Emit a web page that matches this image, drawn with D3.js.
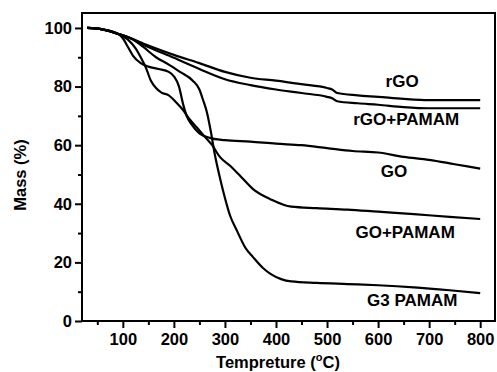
<!DOCTYPE html>
<html>
<head>
<meta charset="utf-8">
<script src="https://cdn.jsdelivr.net/npm/d3@7"></script>
<style>
  body { margin: 0; background: #fff; }
  text { font-family: "Liberation Sans", Arial, sans-serif; font-weight: bold; }
</style>
</head>
<body>
<div id="chart"></div>
<script>
// temperature (C) / mass (%)
var goT   = [30, 60, 90, 100, 110, 120, 135, 150, 170, 190, 200, 210, 218, 225, 235, 250, 270, 300, 350, 400, 450, 500, 550, 600, 650, 700, 750, 800];
var goM   = [100, 99.5, 98, 96.5, 93.5, 90.5, 88, 86.8, 86, 85, 83.5, 80, 74, 70, 67, 64, 62.5, 61.7, 61.2, 60.5, 60, 59, 58, 57.5, 56, 55, 53.5, 52];

var gopT  = [30, 60, 90, 110, 125, 135, 145, 155, 165, 175, 190, 205, 218, 230, 245, 260, 275, 290, 310, 330, 355, 390, 430, 480, 540, 600, 670, 740, 800];
var gopM  = [100, 99.5, 98, 96, 93, 90, 86.5, 82, 79.5, 78, 77, 74.5, 72, 69, 66, 63, 60, 56, 53, 49.5, 45, 41.5, 39, 38.5, 38, 37.3, 36.5, 35.5, 34.8];

var g3T   = [30, 60, 90, 120, 140, 165, 190, 212, 237, 250, 257, 265, 272, 280, 290, 300, 310, 323, 340, 355, 375, 390, 410, 430, 480, 540, 600, 670, 740, 800];
var g3M   = [100, 99.5, 98, 96, 93.5, 90, 87.5, 85, 82, 79, 75.5, 71, 65, 57, 49, 42, 36, 31, 25, 21.8, 18, 16, 14.3, 13.5, 13, 12.6, 12.2, 11.5, 10.5, 9.5];

var rgoT  = [30, 60, 90, 100, 150, 200, 250, 300, 350, 400, 450, 500, 510, 520, 560, 600, 650, 700, 800];
var rgoM  = [100, 99.5, 98, 97.5, 94, 90.8, 88, 85, 83, 82, 80.8, 79.5, 79, 77.8, 77, 76.5, 75.8, 75.4, 75.4];

var rgopT = [30, 60, 90, 100, 150, 200, 250, 300, 350, 400, 450, 500, 510, 520, 560, 600, 650, 700, 800];
var rgopM = [100, 99.5, 98, 97.5, 93.5, 89.8, 86, 82.5, 80.5, 79, 77.8, 76.5, 76, 75, 74.3, 73.8, 73, 72.6, 72.6];

var seriesNames = ["rGO", "rGO+PAMAM", "GO", "GO+PAMAM", "G3 PAMAM"];
var seriesT = [rgoT, rgopT, goT, gopT, g3T];
var seriesM = [rgoM, rgopM, goM, gopM, g3M];
// label anchor points (data units, text baseline)
var labelT = [647, 655, 631, 653, 667];
var labelM = [79.9, 66.9, 49.1, 28.3, 5.1];

var xTicks = [100, 200, 300, 400, 500, 600, 700, 800];
var yTicks = [0, 20, 40, 60, 80, 100];

var W = 497, H = 372;
var margin = {top: 13, right: 2, bottom: 51, left: 82};
var width = W - margin.left - margin.right,
    height = H - margin.top - margin.bottom;

var svg = d3.select("#chart").append("svg")
    .attr("width", W)
    .attr("height", H)
  .append("g")
    .attr("transform", "translate(" + margin.left + "," + margin.top + ")");

var x = d3.scaleLinear().domain([20, 829]).range([0, width]);
var y = d3.scaleLinear().domain([0, 105.1]).range([height, 0]);

// minor ticks
svg.append("g")
    .attr("transform", "translate(0," + height + ")")
    .call(d3.axisBottom(x).tickValues(d3.range(50, 830, 100)).tickSize(4).tickFormat(""))
    .call(g => g.select(".domain").remove())
    .selectAll("line").attr("stroke-width", 2);
svg.append("g")
    .call(d3.axisLeft(y).tickValues(d3.range(10, 105, 20)).tickSize(4).tickFormat(""))
    .call(g => g.select(".domain").remove())
    .selectAll("line").attr("stroke-width", 2);

// major ticks
var xa = svg.append("g")
    .attr("transform", "translate(0," + height + ")")
    .call(d3.axisBottom(x).tickValues(xTicks).tickSize(7).tickPadding(5));
xa.select(".domain").remove();
xa.selectAll("line").attr("stroke-width", 2);
xa.selectAll("text").attr("font-size", 16.5).attr("fill", "#000")
  .style("font-family", "'Liberation Sans', Arial, sans-serif");

var ya = svg.append("g")
    .call(d3.axisLeft(y).tickValues(yTicks).tickSize(7).tickPadding(3));
ya.select(".domain").remove();
ya.selectAll("line").attr("stroke-width", 2);
ya.selectAll("text").attr("font-size", 16.5).attr("fill", "#000")
  .style("font-family", "'Liberation Sans', Arial, sans-serif");

// frame
svg.append("rect")
    .attr("width", width).attr("height", height)
    .attr("fill", "none").attr("stroke", "#000").attr("stroke-width", 2);

var line = d3.line()
    .x(d => x(d[0]))
    .y(d => y(d[1]))
    .curve(d3.curveMonotoneX);

seriesNames.forEach(function (name, i) {
  var pts = seriesT[i].map((t, j) => [t, seriesM[i][j]]);
  svg.append("path")
      .datum(pts)
      .attr("d", line)
      .attr("fill", "none")
      .attr("stroke", "#000")
      .attr("stroke-width", 2.2);
  svg.append("text")
      .attr("x", x(labelT[i]))
      .attr("y", y(labelM[i]))
      .attr("text-anchor", "middle")
      .attr("font-size", 17)
      .text(name);
});

// axis titles
var xt = svg.append("text")
    .attr("x", 278 - margin.left)
    .attr("y", 368 - margin.top)
    .attr("text-anchor", "middle")
    .attr("font-size", 16.5);
xt.append("tspan").text("Tempreture (");
xt.append("tspan").attr("dy", -7).attr("font-size", 11).text("o");
xt.append("tspan").attr("dy", 7).text("C)");

svg.append("text")
    .attr("transform", "translate(" + (26 - margin.left) + "," + (175 - margin.top) + ") rotate(-90)")
    .attr("text-anchor", "middle")
    .attr("font-size", 16.5)
    .text("Mass (%)");
</script>
</body>
</html>
